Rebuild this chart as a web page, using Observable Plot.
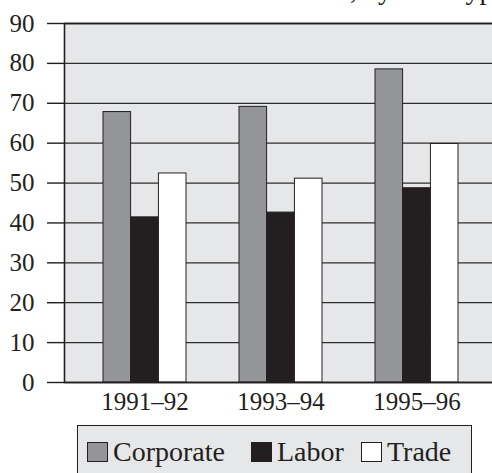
<!DOCTYPE html>
<html><head><meta charset="utf-8">
<script src="https://cdn.jsdelivr.net/npm/d3@7"></script>
<script src="https://cdn.jsdelivr.net/npm/@observablehq/plot@0.6"></script>
<style>
html,body{margin:0;padding:0;background:#fff;}
body{width:492px;height:473px;overflow:hidden;position:relative;font-family:"Liberation Serif",serif;color:#231f20;}
#title{position:absolute;top:-26px;right:-14px;font-size:28px;line-height:normal;white-space:nowrap;}
#chart{position:absolute;left:0;top:0;}
#chart svg{overflow:hidden;display:block;}
#chart g[aria-label="y-axis tick"] path{stroke-width:1.4;}
#legend{position:absolute;left:77px;top:425px;width:395px;height:70px;box-sizing:border-box;border:1.5px solid #231f20;background:#e6e7e9;}
.item{position:absolute;top:14px;display:flex;align-items:center;font-size:28px;line-height:24px;}
.sw{width:21px;height:20px;box-sizing:border-box;border:1.3px solid #231f20;margin-right:5px;}
</style></head><body>
<div id="title">PAC contributions, by PAC type</div>
<div id="chart"></div>
<div id="legend"></div>
<script>
const years = ["1991–92", "1993–94", "1995–96"];
const types = ["Corporate", "Labor", "Trade"];
const corporate = [67.8, 69.1, 78.5];
const labor = [41.4, 42.6, 48.7];
const trade = [52.4, 51.1, 59.8];
const yTicks = [0, 10, 20, 30, 40, 50, 60, 70, 80, 90];
const colors = ["#939598", "#231f20", "#ffffff"];
const series = [corporate, labor, trade];

const data = years.flatMap((year, i) => types.map((type, j) => ({year, type, value: series[j][i]})));

const W = 492, H = 420, mL = 64, mR = -4, mT = 23, mB = 38;
const pIn = 0.39, pOut = 0.28;
const bw = d3.scaleBand(years, [mL, W - mR]).paddingInner(pIn).paddingOuter(pOut).bandwidth();
const slot = bw / 3;

const barMarks = types.map((t, j) => Plot.barY(data.filter(d => d.type === t), {
  x: "year", y: "value",
  fill: colors[j], stroke: "#231f20", strokeWidth: 1,
  insetLeft: j * slot, insetRight: (2 - j) * slot
}));

const chart = Plot.plot({
  width: W, height: H,
  marginLeft: mL, marginRight: mR, marginTop: mT, marginBottom: mB,
  style: {fontFamily: "'Liberation Serif', serif", fontSize: "25px", color: "#231f20", background: "transparent", overflow: "hidden"},
  x: {domain: years, paddingInner: pIn, paddingOuter: pOut, label: null, tickSize: 0, tickPadding: 10},
  y: {domain: [0, 90], ticks: yTicks, label: null, tickSize: 17, tickPadding: 13},
  marks: [
    Plot.frame({fill: "#e6e7e9"}),
    Plot.ruleY(yTicks, {stroke: "#2e2e2e", strokeWidth: 1.3}),
    ...barMarks,
    Plot.frame({stroke: "#231f20", strokeWidth: 1.6})
  ]
});
document.getElementById("chart").appendChild(chart);

const legendX = [9, 173, 283];
const legend = document.getElementById("legend");
types.forEach((t, j) => {
  const it = document.createElement("div");
  it.className = "item";
  it.style.left = legendX[j] + "px";
  const sw = document.createElement("div");
  sw.className = "sw";
  sw.style.background = colors[j];
  const tx = document.createElement("span");
  tx.textContent = t;
  it.appendChild(sw); it.appendChild(tx);
  legend.appendChild(it);
});
</script>
</body></html>
